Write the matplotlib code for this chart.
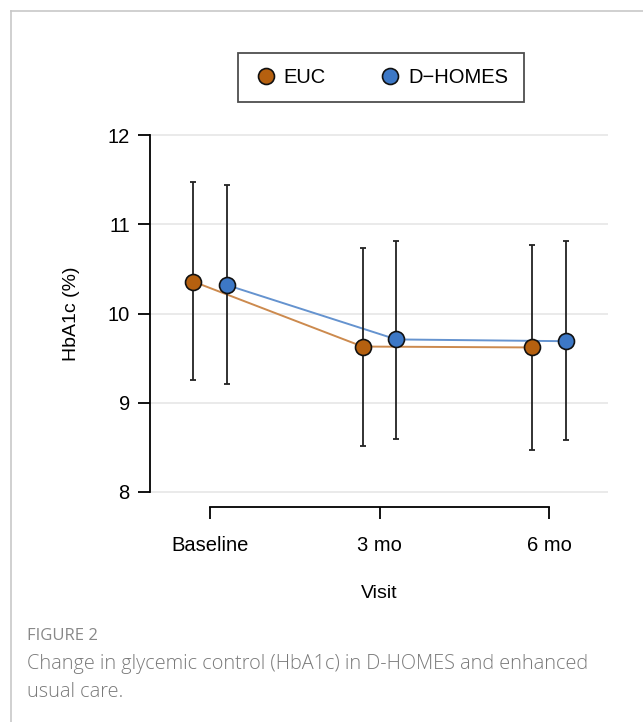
import numpy as np
import matplotlib as mpl
mpl.use('Agg')
import matplotlib.pyplot as plt
from matplotlib.lines import Line2D

plt.rcParams['font.family'] = ['Liberation Sans', 'DejaVu Sans']

visits = ['Baseline', '3 mo', '6 mo']
euc_mean = [10.36, 9.63, 9.62]
euc_lo = [9.25, 8.51, 8.47]
euc_hi = [11.48, 10.74, 10.77]
dh_mean = [10.32, 9.71, 9.69]
dh_lo = [9.21, 8.59, 8.58]
dh_hi = [11.44, 10.82, 10.81]

euc_col = '#B5600F'
euc_line = '#CC8A4E'
dh_col = '#3D78C6'
dh_line = '#6593CF'

fig = plt.figure(figsize=(6.43, 7.22), dpi=100)
ax = fig.add_axes([0.2333, 0.3102, 0.7123, 0.5097])

x = np.arange(len(visits))
dx = 0.1

for off, m, lo, hi, mc, lc in [(-dx, euc_mean, euc_lo, euc_hi, euc_col, euc_line),
                               (dx, dh_mean, dh_lo, dh_hi, dh_col, dh_line)]:
    xs = x + off
    m = np.array(m)
    ax.plot(xs, m, color=lc, lw=1.4, zorder=2)
    ax.errorbar(xs, m, yerr=[m - np.array(lo), np.array(hi) - m], fmt='none',
                ecolor='#222222', elinewidth=1.3, capsize=2.5, capthick=1.3, zorder=3)
    ax.plot(xs, m, 'o', ms=11.5, mfc=mc, mec='#111111', mew=1.2, zorder=4)

ax.set_ylim(7.93, 12.06)
ax.set_xlim(-0.354, 2.348)
ax.set_yticks([8, 9, 10, 11, 12])
ax.set_xticks(x)
ax.set_xticklabels(visits)
ax.yaxis.grid(True, color='#e6e6e6', lw=1.2)
ax.set_axisbelow(True)

for s in ['top', 'right']:
    ax.spines[s].set_visible(False)
ax.spines['left'].set_bounds(8, 12)
ax.spines['bottom'].set_bounds(0, 2)
ax.spines['bottom'].set_position(('outward', 6.5))
ax.spines['left'].set_linewidth(1.3)
ax.spines['bottom'].set_linewidth(1.3)
ax.tick_params(axis='y', length=8.5, width=1.3, pad=6, labelsize=14.5)
ax.tick_params(axis='x', length=8.5, width=1.3, pad=12, labelsize=14.5)

ax.set_ylabel('HbA1c (%)', fontsize=14, labelpad=20)
ax.set_xlabel('Visit', fontsize=14, labelpad=22)

handles = [Line2D([], [], ls='', marker='o', ms=11.5, mfc=euc_col, mec='#111111', mew=1.2),
           Line2D([], [], ls='', marker='o', ms=11.5, mfc=dh_col, mec='#111111', mew=1.2)]
leg = fig.legend(handles, ['EUC', 'D\u2212HOMES'], loc='center', bbox_to_anchor=(0.5925, 0.893),
                 ncol=2, fontsize=14.5, frameon=True, fancybox=False, edgecolor='#222222',
                 handletextpad=0.3, columnspacing=2.6, borderpad=0.75, handlelength=1.2)
leg.get_frame().set_linewidth(1.3)

# outer frame of the figure panel
fig.add_artist(Line2D([11 / 643, 1], [1 - 11 / 722, 1 - 11 / 722], color='#c8c8c8', lw=1.2))
fig.add_artist(Line2D([11 / 643, 11 / 643], [0, 1 - 11 / 722], color='#c8c8c8', lw=1.2))

fig.text(27 / 643, 1 - 636 / 722, 'FIGURE 2', fontsize=12, color='#888888',
         family=['Open Sans', 'DejaVu Sans'], va='center')
fig.text(27 / 643, 1 - 678 / 722, 'Change in glycemic control (HbA1c) in D-HOMES and enhanced\nusual care.',
         fontsize=14.3, color='#7a7a7a', family=['Open Sans', 'DejaVu Sans'], va='center',
         linespacing=1.48, fontweight='light')

fig.savefig('out.png', dpi=100)
